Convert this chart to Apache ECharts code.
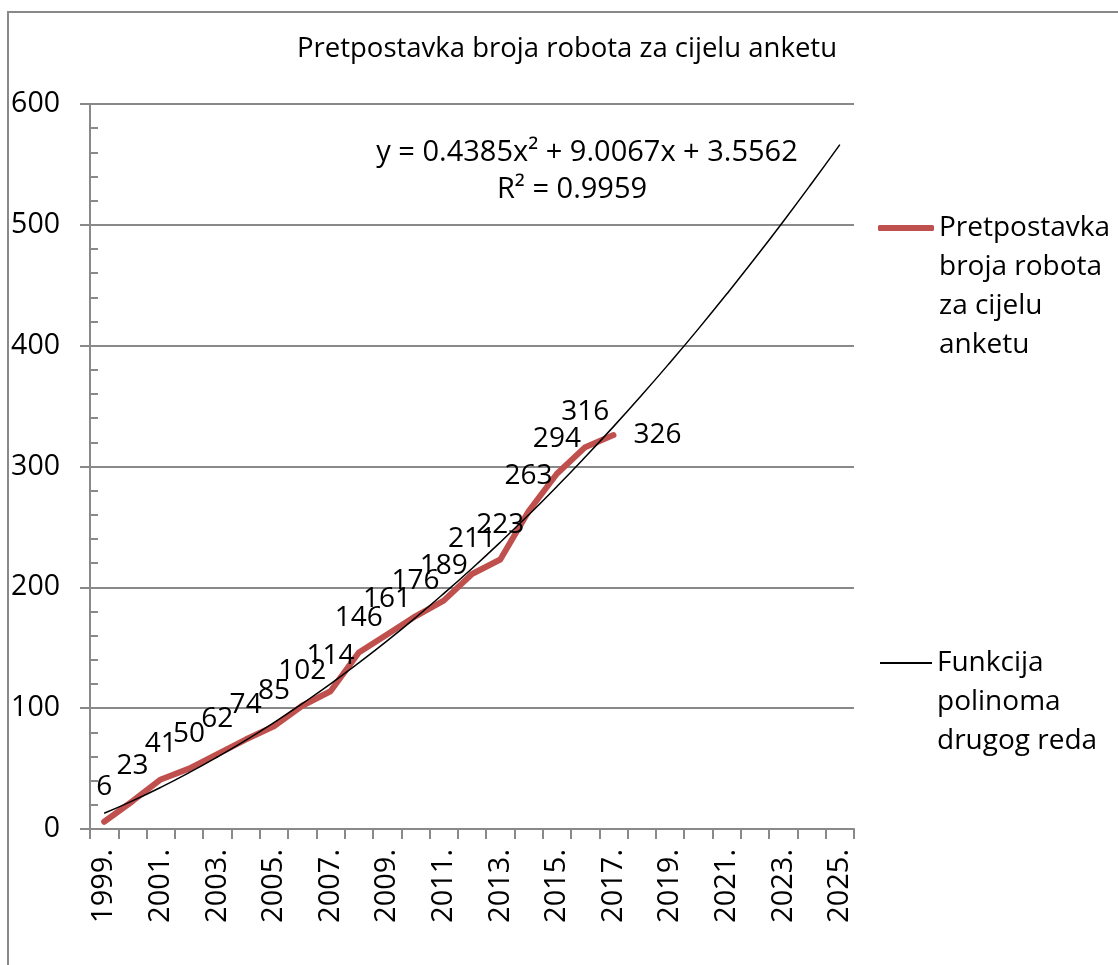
<!DOCTYPE html>
<html>
<head>
<meta charset="utf-8">
<script src="https://cdn.jsdelivr.net/npm/echarts@6/dist/echarts.min.js"></script>
<style>
  html, body { margin: 0; padding: 0; background: #fff; }
  #chart { width: 1118px; height: 965px; }
</style>
</head>
<body>
<div id="chart"></div>
<script>
// Years on the category axis
const years = ['1999.', '2000.', '2001.', '2002.', '2003.', '2004.', '2005.', '2006.', '2007.',
  '2008.', '2009.', '2010.', '2011.', '2012.', '2013.', '2014.', '2015.', '2016.', '2017.',
  '2018.', '2019.', '2020.', '2021.', '2022.', '2023.', '2024.', '2025.'];

// Estimated number of robots, 1999–2017
const robots = [6, 23, 41, 50, 62, 74, 85, 102, 114, 146, 161, 176, 189, 211, 223, 263, 294, 316, 326];

// Second-order polynomial trend, 1999–2025
const trend = [13.0, 23.3, 34.5, 46.6, 59.6, 73.4, 88.1, 103.7, 120.1, 137.5, 155.7, 174.8, 194.8,
  215.6, 237.3, 259.9, 283.4, 307.8, 333.0, 359.1, 386.1, 413.9, 442.7, 472.3, 502.8, 534.2, 566.4];

const yTicks = [0, 100, 200, 300, 400, 500, 600];

const seriesName1 = 'Pretpostavka broja robota za cijelu anketu';
const seriesName2 = 'Funkcija polinoma drugog reda';
const legendLines1 = ['Pretpostavka', 'broja robota', 'za cijelu', 'anketu'];
const legendLines2 = ['Funkcija', 'polinoma', 'drugog reda'];
const titleText = 'Pretpostavka broja robota za cijelu anketu';
const equationText = 'y = 0.4385x² + 9.0067x + 3.5562';
const r2Text = 'R² = 0.9959';

const FONT = 'Open Sans';
const GRAY = '#898989';
const LH = 39;

// Legend text hangs below its icon: leading blank lines balance the centred block
function hangingText(lines) {
  return '\n'.repeat(lines.length - 1) + lines.join('\n');
}

const chart = echarts.init(document.getElementById('chart'), null, { renderer: 'canvas' });

const robotData = robots.map((v, i) => i === robots.length - 1
  ? { value: v, label: { position: 'right', distance: 20 } }
  : v);

chart.setOption({
  backgroundColor: '#fff',
  animation: false,
  textStyle: { fontFamily: FONT },
  title: {
    text: titleText,
    left: 297, top: 35, padding: 0,
    textStyle: { fontFamily: FONT, fontSize: 27.5, fontWeight: 'normal', color: '#000' }
  },
  graphic: [
    { type: 'rect', shape: { x: 8, y: 12, width: 1200, height: 1100 },
      style: { fill: 'none', stroke: GRAY, lineWidth: 2 }, silent: true, z: -1 },
    { type: 'text', x: 587, y: 153,
      style: { text: equationText, fontFamily: FONT, fontSize: 29, fill: '#000', align: 'center', verticalAlign: 'middle' } },
    { type: 'text', x: 572, y: 190,
      style: { text: r2Text, fontFamily: FONT, fontSize: 29, fill: '#000', align: 'center', verticalAlign: 'middle' } }
  ],
  legend: [
    {
      data: [seriesName1], orient: 'vertical', left: 878, top: 228 - 3.5 * LH, padding: 0,
      icon: 'roundRect', itemWidth: 56, itemHeight: 6, itemGap: 0,
      formatter: () => hangingText(legendLines1),
      textStyle: { fontFamily: FONT, fontSize: 28, color: '#000', lineHeight: LH }
    },
    {
      data: [seriesName2], orient: 'vertical', left: 880, top: 663 - 2.5 * LH, padding: 0,
      icon: 'rect', itemWidth: 52, itemHeight: 2, itemGap: 0,
      formatter: () => hangingText(legendLines2),
      textStyle: { fontFamily: FONT, fontSize: 28, color: '#000', lineHeight: LH }
    }
  ],
  grid: { left: 90, right: 264, top: 104, bottom: 136, containLabel: false },
  xAxis: {
    type: 'category',
    data: years,
    boundaryGap: true,
    axisLine: { lineStyle: { color: GRAY, width: 2 } },
    axisTick: { show: true, length: 10, interval: 0, lineStyle: { color: GRAY, width: 2 } },
    axisLabel: { interval: 1, rotate: 90, margin: 20, fontFamily: FONT, fontSize: 29, color: '#000' },
    splitLine: { show: false }
  },
  yAxis: [
    {
      type: 'value', min: yTicks[0], max: yTicks[yTicks.length - 1], interval: 100,
      axisLine: { show: true, lineStyle: { color: GRAY, width: 2 } },
      axisTick: { show: true, length: 10, lineStyle: { color: GRAY, width: 2 } },
      axisLabel: { margin: 30, fontFamily: FONT, fontSize: 28.5, color: '#000' },
      splitLine: { show: true, lineStyle: { color: GRAY, width: 2 } }
    },
    {
      // inner minor ticks every 20
      type: 'value', min: 0, max: 600, interval: 20, position: 'left',
      axisLine: { show: false },
      axisTick: { show: true, inside: true, length: 8, lineStyle: { color: GRAY, width: 2 } },
      axisLabel: { show: false },
      splitLine: { show: false }
    }
  ],
  series: [
    {
      name: seriesName1,
      type: 'line',
      data: robotData,
      symbol: 'circle', symbolSize: 0.01, showSymbol: true,
      itemStyle: { color: '#C0504D' },
      lineStyle: { color: '#C0504D', width: 6, cap: 'round', join: 'round' },
      label: { show: true, position: 'top', distance: 21, fontFamily: FONT, fontSize: 28, color: '#000' },
      z: 2
    },
    {
      name: seriesName2,
      type: 'line',
      data: trend,
      symbol: 'none',
      smooth: true,
      itemStyle: { color: '#000' },
      lineStyle: { color: '#000', width: 1.5 },
      z: 3
    }
  ]
});
</script>
</body>
</html>
